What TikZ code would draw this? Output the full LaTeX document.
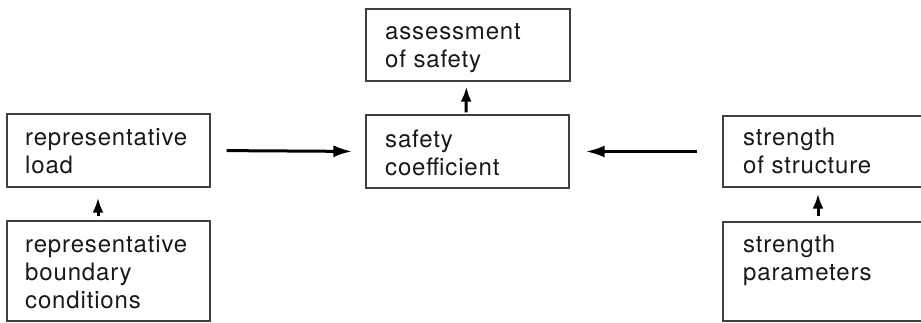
\documentclass[tikz,border=0pt]{standalone}
\usepackage{fontspec}
\setmainfont[LetterSpace=3.5]{TeX Gyre Heros}
\usetikzlibrary{arrows.meta}
\begin{document}
\begin{tikzpicture}[x=1pt,y=-1pt,
  box/.style={draw=black!75,line width=1.3pt,minimum width=203pt,inner sep=0pt,rectangle},
  lbl/.style={anchor=base west,inner sep=0pt,align=left,text=black!90,font=\fontsize{24}{28.3}\selectfont},
  harr/.style={line width=3pt,-{Latex[length=19pt,width=12pt]}},
  varr/.style={line width=3pt,-{Latex[length=15pt,width=11pt]}}]
\useasboundingbox (0,0) rectangle (921,322);
\node[box,minimum height=73pt] (load) at (108.5,150.5) {};
\node[box,minimum height=100pt] (bc) at (108.5,271) {};
\node[box,minimum height=73pt] (coef) at (467.5,151.5) {};
\node[box,minimum height=72pt,minimum width=204pt] (assess) at (468,45) {};
\node[box,minimum height=71pt] (sos) at (824.5,151.5) {};
\node[box,minimum height=99pt] (sp) at (824.5,271.5) {};
\node[lbl] (tload) at (25,173.3) {representative\\load};
\node[lbl] (tbc) at (25,308.6) {representative\\boundary\\conditions};
\node[lbl] (tcoef) at (385,175.3) {safety\\coefficient};
\node[lbl] (tassess) at (385,67.3) {assessment\\of safety};
\node[lbl] (tsos) at (743,173.3) {strength\\of structure};
\node[lbl] (tsp) at (743,280.3) {strength\\parameters};
\draw[harr,shorten <=16pt,shorten >=13pt] (load.east) -- (coef.west);
\draw[harr,shorten <=25pt,shorten >=16pt] (sos.west) -- (coef.east);
\draw[varr,shorten <=4pt,shorten >=10pt] ([xshift=-10.5pt]bc.north) -- ([xshift=-10.5pt]load.south);
\draw[varr,shorten <=2pt,shorten >=5pt] ([xshift=-1.5pt]coef.north) -- ([xshift=-1.5pt]assess.south);
\draw[varr,shorten <=5pt,shorten >=6pt] ([xshift=-6.5pt]sp.north) -- ([xshift=-6.5pt]sos.south);
\end{tikzpicture}
\end{document}
